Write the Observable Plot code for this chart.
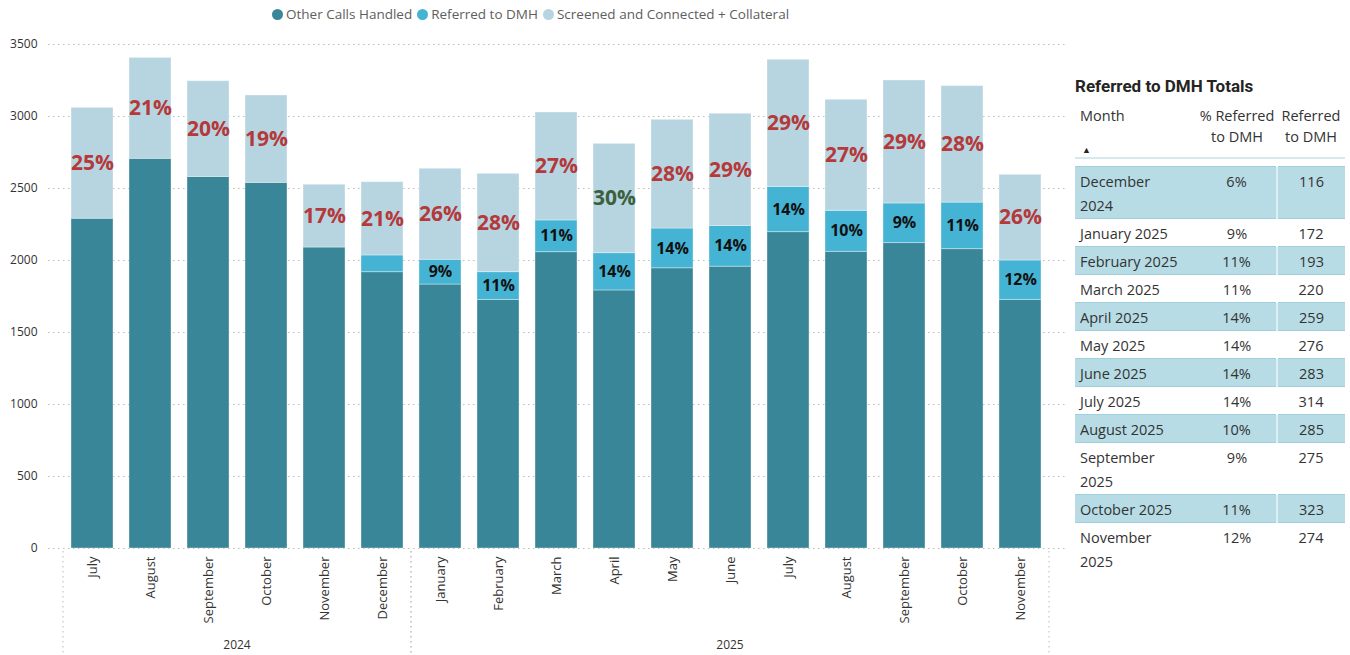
<!DOCTYPE html>
<html>
<head>
<meta charset="utf-8">
<script src="https://cdn.jsdelivr.net/npm/d3@7"></script>
<script src="https://cdn.jsdelivr.net/npm/@observablehq/plot@0.6"></script>
<style>
  body { margin: 0; background: #fff; font-family: "Open Sans", sans-serif; }
  #wrap { position: relative; width: 1350px; height: 655px; overflow: hidden; background: #fff; }
  #chart { position: absolute; left: 0; top: 0; }
  #legend { position: absolute; left: 272px; top: 5px; display: flex; align-items: center;
            font-size: 13.5px; color: #605E5C; white-space: nowrap; }
  #legend .item { display: flex; align-items: center; margin-right: 5px; }
  #legend .sw { display: inline-block; width: 11px; height: 11px; border-radius: 50%; margin-right: 3px; }
  #side { position: absolute; left: 1075px; top: 72px; width: 272px; }
  #ttl { font-family: Roboto, sans-serif; font-weight: 700; font-size: 17px; color: #252423; height: 28px; line-height: 28px; }
  #tbl { border-collapse: collapse; table-layout: fixed; width: 270px; font-size: 14.5px; color: #333; }
  #tbl th { font-weight: 400; vertical-align: top; line-height: 21px; padding: 5px 0 10px 0;
            border-bottom: 2px solid #d3e9ef; white-space: pre-line; position: relative; }
  #tbl th.m { text-align: left; padding-left: 5px; }
  #tbl th .arrow { position: absolute; left: 7px; bottom: 3px; font-size: 9px; line-height: 9px; color: #222; }
  #tbl td { vertical-align: top; line-height: 24px; padding: 3px 0 0 0; text-align: center; }
  #tbl td.m { text-align: left; padding-left: 5px; padding-right: 17px; }
  #tbl tr.band td { background: #B7DCE5; border-top: 1px solid #9fd0dc; border-bottom: 1px solid #9fd0dc; }
  #tbl tr.band td.c3 { border-left: 2px solid rgba(255,255,255,0.55); }
  #tbl tr.spacer td { height: 7px; padding: 0; }
</style>
</head>
<body>
<div id="wrap">
  <div id="chart"></div>
  <div id="legend"></div>
  <div id="side">
    <div id="ttl"></div>
    <table id="tbl"></table>
  </div>
</div>
<script>
// ---------------- data ----------------
const months = ["July","August","September","October","November","December",
                "January","February","March","April","May","June","July","August","September","October","November"];
const years = [2024,2024,2024,2024,2024,2024,2025,2025,2025,2025,2025,2025,2025,2025,2025,2025,2025];
const otherCalls = [2290,2706,2580,2539,2090,1919,1833,1726,2058,1792,1946,1957,2197,2060,2121,2079,1726];
const referredDMH = [0,0,0,0,0,116,172,193,220,259,276,283,314,285,275,323,274];
const screenedConnected = [770,701,665,607,436,509,632,683,750,759,755,779,883,771,854,809,595];
const screenedPct = [25,21,20,19,17,21,26,28,27,30,28,29,29,27,29,28,26];
const referredPct = [null,null,null,null,null,6,9,11,11,14,14,14,14,10,9,11,12];
const yTicks = [0,500,1000,1500,2000,2500,3000,3500];
const seriesNames = ["Other Calls Handled","Referred to DMH","Screened and Connected + Collateral"];
const seriesColors = ["#3A8699","#45B3D3","#B6D5E0"];
const tableHeaders = ["Month","% Referred\nto DMH","Referred\nto DMH"];
const tableTitle = "Referred to DMH Totals";

const RED = "#B5383B", GREEN = "#3C5F3D";

// ---------------- build rows ----------------
const keys = months.map((m, i) => `${m} ${years[i]}`);
const rows = [];
keys.forEach((k, i) => {
  rows.push({key: k, series: 0, value: otherCalls[i]});
  rows.push({key: k, series: 1, value: referredDMH[i],
             label: (referredPct[i] != null && referredDMH[i] >= 150) ? referredPct[i] + "%" : null});
  rows.push({key: k, series: 2, value: screenedConnected[i], label: screenedPct[i] + "%", pct: screenedPct[i]});
});

// year group separators and labels (custom render mark using the x scale)
function yearGroups(index, scales, values, dims) {
  const x = scales.x, y = scales.y;
  const bw = typeof x.bandwidth === "function" ? x.bandwidth() : x.bandwidth;
  const step = x(keys[1]) - x(keys[0]);
  const center = k => x(k) + bw / 2;
  const groups = d3.groups(keys.map((k, i) => ({k, yr: years[i]})), d => d.yr);
  const g = d3.create("svg:g");
  const bounds = new Set();
  groups.forEach(([yr, items]) => {
    const left = center(items[0].k) - step / 2;
    const right = center(items[items.length - 1].k) + step / 2;
    bounds.add(left); bounds.add(right);
    g.append("text").attr("x", (left + right) / 2).attr("y", dims.height - 6)
      .attr("text-anchor", "middle").attr("font-size", 12).attr("fill", "#333").text(yr);
  });
  for (const b of bounds) {
    g.append("line").attr("x1", b).attr("x2", b).attr("y1", y(0) + 3).attr("y2", dims.height)
      .attr("stroke", "#c6c6c6").attr("stroke-width", 1.2).attr("stroke-dasharray", "1.5,3.5");
  }
  return g.node();
}

const chart = Plot.plot({
  width: 1072, height: 655,
  marginTop: 44, marginBottom: 107, marginLeft: 48, marginRight: 7,
  style: {fontFamily: "'Open Sans', sans-serif", background: "transparent", overflow: "visible"},
  x: {domain: keys, insetLeft: 7, insetRight: 8, padding: 0.276, align: 0.5, round: false, label: null},
  y: {domain: [0, 3500], label: null},
  marks: [
    Plot.gridY(yTicks, {stroke: "#bdbdbd", strokeOpacity: 1, strokeWidth: 1.2, strokeDasharray: "1.5,3.5"}),
    Plot.axisY(yTicks, {tickSize: 0, tickPadding: 11, fontSize: 12, fill: "#333", tickFormat: d3.format("d"), label: null}),
    Plot.axisX({tickSize: 0, tickRotate: -90, tickPadding: 8, fontSize: 13, fill: "#333",
                tickFormat: k => k.split(" ")[0], label: null}),
    Plot.barY(rows, Plot.stackY({x: "key", y: "value", z: "series",
      fill: d => seriesColors[d.series], stroke: "#ffffff", strokeOpacity: 0.35, strokeWidth: 1})),
    Plot.text(rows, Plot.stackY({x: "key", y: "value", z: "series",
      text: d => d.series === 2 ? d.label : null,
      fill: d => (d.pct >= 30 ? GREEN : RED), fontSize: 21, fontWeight: 700})),
    Plot.text(rows, Plot.stackY({x: "key", y: "value", z: "series",
      text: d => d.series === 1 ? d.label : null,
      fill: "#111", fontSize: 16, fontWeight: 700})),
    yearGroups
  ]
});
document.getElementById("chart").appendChild(chart);

// ---------------- legend ----------------
const legend = d3.select("#legend");
seriesNames.forEach((n, i) => {
  const it = legend.append("div").attr("class", "item");
  it.append("span").attr("class", "sw").style("background", seriesColors[i]);
  it.append("span").text(n);
});

// ---------------- table ----------------
document.getElementById("ttl").textContent = tableTitle;
const tbl = d3.select("#tbl");
const cg = tbl.append("colgroup");
[122, 80, 68].forEach(w => cg.append("col").style("width", w + "px"));
const hr = tbl.append("thead").append("tr");
tableHeaders.forEach((h, i) => {
  const th = hr.append("th").attr("class", i === 0 ? "m" : "c" + (i + 1)).text(h);
  if (i === 0) th.append("span").attr("class", "arrow").text("▲");
});
const tb = tbl.append("tbody");
tb.append("tr").attr("class", "spacer").selectAll("td").data([0,1,2]).join("td");
let r = 0;
keys.forEach((k, i) => {
  if (!(referredDMH[i] > 0)) return;
  const tr = tb.append("tr").attr("class", r % 2 === 0 ? "band" : "plain");
  tr.append("td").attr("class", "m").text(`${months[i]} ${years[i]}`);
  tr.append("td").attr("class", "c2").text(referredPct[i] + "%");
  tr.append("td").attr("class", "c3").text(referredDMH[i]);
  r++;
});
</script>
</body>
</html>
